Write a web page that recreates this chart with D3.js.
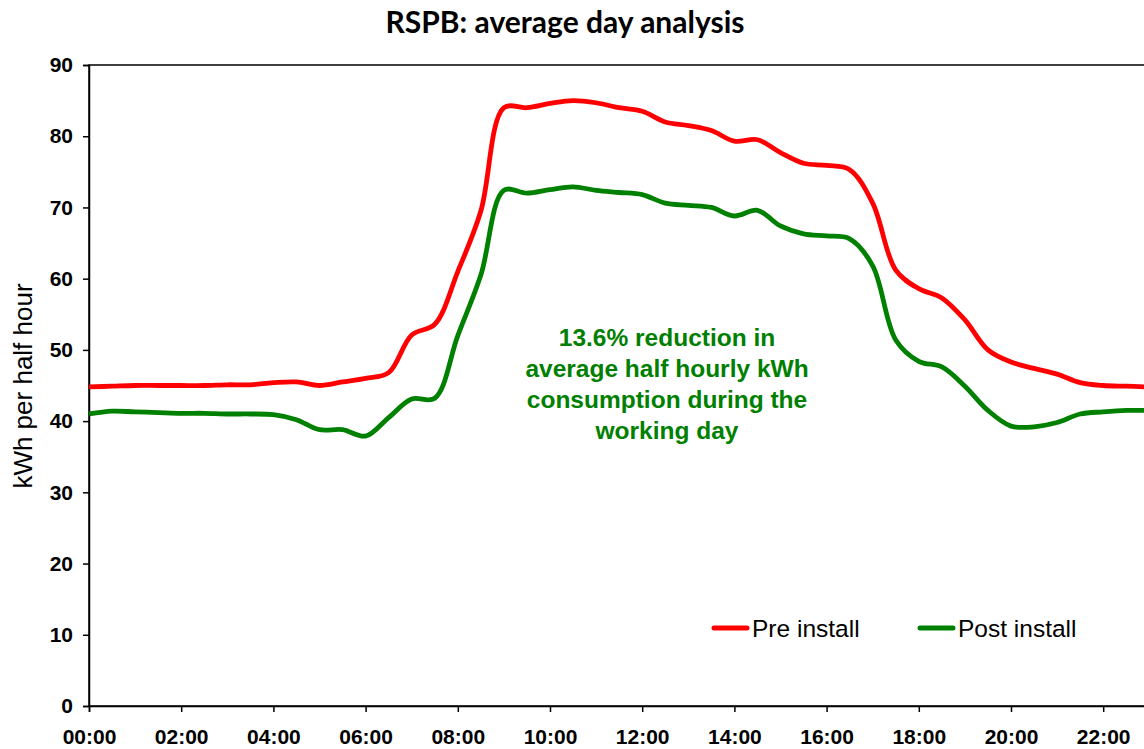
<!DOCTYPE html>
<html lang="en">
<head>
<meta charset="utf-8">
<title>RSPB: average day analysis</title>
<script src="https://cdn.jsdelivr.net/npm/d3@7/dist/d3.min.js"></script>
<style>
    body { margin: 0; background: #fff; }
    svg { display: block; }
    .tick text { font: bold 21px "Liberation Sans", Arial, sans-serif; fill: #000; }
    .domain, .tick line { stroke: #000; stroke-width: 1.5px; }
</style>
</head>
<body>
<script>
    // half-hour slots, in hours from midnight
    const slots = d3.range(0, 24, 0.5);

    const preInstall = [
        44.8, 44.9, 45.0, 45.0, 45.0, 45.0, 45.1, 45.1,
        45.4, 45.5, 45.0, 45.5, 46.0, 46.8, 52.1, 53.6,
        61.0, 69.5, 84.0, 84.0, 84.6, 85.0, 84.7, 84.0,
        83.5, 82.0, 81.5, 80.8, 79.3, 79.5, 77.7, 76.2,
        75.9, 75.3, 70.6, 61.2, 58.6, 57.3, 54.2, 50.0,
        48.3, 47.4, 46.6, 45.4, 45.0, 44.9, 44.8, 44.8
    ];

    const postInstall = [
        41.0, 41.4, 41.3, 41.2, 41.1, 41.1, 41.0, 41.0,
        40.9, 40.2, 38.8, 38.8, 37.9, 40.5, 43.1, 43.2,
        52.0, 60.5, 72.4, 72.0, 72.5, 72.9, 72.4, 72.1,
        71.8, 70.6, 70.3, 70.0, 68.8, 69.6, 67.4, 66.3,
        66.0, 65.6, 61.8, 51.4, 48.4, 47.6, 44.9, 41.5,
        39.3, 39.2, 39.8, 41.0, 41.3, 41.5, 41.5, 41.5
    ];

    const xTicks = d3.range(0, 24, 2);
    const yTicks = d3.range(0, 100, 10);

    const W = 1144, H = 749;
    const plotLeft = 89, plotTop = 65, plotBottom = 706;

    const svg = d3.select("body").append("svg")
        .attr("width", W)
        .attr("height", H);

    // 46.1px per hour; the right part of the day runs off the picture
    const x = d3.scaleLinear().domain([0, 24]).range([plotLeft, plotLeft + 24 * 46.1]);
    const y = d3.scaleLinear().domain([0, 90]).range([plotBottom, plotTop]);

    // plot area frame
    svg.append("rect")
        .attr("x", x(0)).attr("y", y(90))
        .attr("width", x(24) - x(0)).attr("height", y(0) - y(90))
        .attr("fill", "none").attr("stroke", "#000").attr("stroke-width", 1.5);

    svg.append("g")
        .attr("transform", `translate(0,${plotBottom})`)
        .call(d3.axisBottom(x).tickValues(xTicks).tickSize(6).tickPadding(17)
            .tickFormat(d => String(d).padStart(2, "0") + ":00"));

    svg.append("g")
        .attr("transform", `translate(${plotLeft},0)`)
        .call(d3.axisLeft(y).tickValues(yTicks).tickSize(6).tickPadding(10));

    const line = d3.line()
        .x((d, i) => x(slots[i]))
        .y(d => y(d))
        .curve(d3.curveCatmullRom.alpha(0.5));

    svg.append("path").datum(postInstall)
        .attr("d", line)
        .attr("fill", "none").attr("stroke", "#008000").attr("stroke-width", 4.8)
        .attr("stroke-linejoin", "round");

    svg.append("path").datum(preInstall)
        .attr("d", line)
        .attr("fill", "none").attr("stroke", "#ff0000").attr("stroke-width", 4.8)
        .attr("stroke-linejoin", "round");

    // title
    svg.append("text")
        .attr("x", 565).attr("y", 33)
        .attr("text-anchor", "middle")
        .style("font", "bold 30px Lato, 'Open Sans', sans-serif")
        .text("RSPB: average day analysis");

    // y axis title
    svg.append("text")
        .attr("transform", "translate(32,386) rotate(-90)")
        .attr("text-anchor", "middle")
        .style("font", "26px 'Liberation Sans', Arial, sans-serif")
        .text("kWh per half hour");

    // annotation
    const note = ["13.6% reduction in", "average half hourly kWh",
        "consumption during the", "working day"];
    svg.append("text")
        .attr("text-anchor", "middle")
        .style("font", "bold 24.5px 'Liberation Sans', Arial, sans-serif")
        .attr("fill", "#008000")
        .selectAll("tspan").data(note).join("tspan")
        .attr("x", 667)
        .attr("y", (d, i) => 346 + i * 31)
        .text(d => d);

    // legend
    const legend = [
        {name: "Pre install", color: "#ff0000", x: 712},
        {name: "Post install", color: "#008000", x: 918}
    ];
    const lg = svg.append("g").selectAll("g").data(legend).join("g")
        .attr("transform", d => `translate(${d.x},628)`);
    lg.append("line")
        .attr("x1", 2).attr("x2", 35)
        .attr("stroke", d => d.color).attr("stroke-width", 5)
        .attr("stroke-linecap", "round");
    lg.append("text")
        .attr("x", 40).attr("y", 9)
        .style("font", "24.5px 'Liberation Sans', Arial, sans-serif")
        .text(d => d.name);
</script>
</body>
</html>
